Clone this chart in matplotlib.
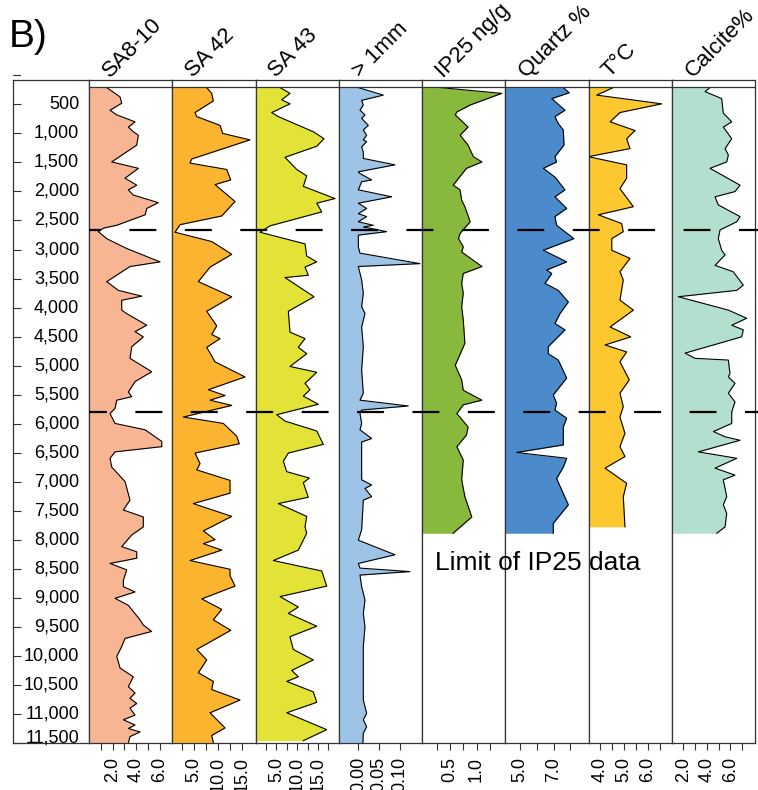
import matplotlib
matplotlib.use('Agg')
import matplotlib.pyplot as plt
import matplotlib.transforms as mtransforms
from matplotlib.lines import Line2D

plt.rcParams['font.family'] = ['Liberation Sans', 'DejaVu Sans']
plt.rcParams['lines.scale_dashes'] = False

# ---- data (age in years BP, values in panel units) ----
names = ['SA8-10', 'SA 42', 'SA 43', '> 1mm', 'IP25 ng/g', 'Quartz %', 'T°C', 'Calcite%']
colors = ['#F7B594', '#FBB430', '#E3E236', '#9DC3E6', '#88B83C', '#4B8BCB', '#FDC82F', '#B3DFCE']

age_ticks = list(range(500, 12000, 500))
age_labels = ['{:,}'.format(a) for a in age_ticks]
boundary_ages = [2660, 5800]

sa810_age = [210, 370, 480, 600, 680, 800, 890, 970, 1030, 1200, 1490, 1600, 1770, 1890, 1970, 2060,
             2190, 2290, 2400, 2580, 2630, 2690, 2810, 2980, 3210, 3290, 3550, 3700, 3800, 3870, 4040,
             4100, 4300, 4410, 4500, 4670, 4870, 5100, 5270, 5450, 5530, 5590, 5730,
             5820, 5990, 6100, 6300, 6390, 6480, 6590, 6740, 6990, 7310, 7480, 7600, 7770, 7910, 8110,
             8200, 8310, 8400, 8510, 8690, 8800, 8890, 9000, 9120, 9370, 9460, 9570, 9690, 9830, 10000,
             10200, 10350, 10520, 10630, 10720, 10810, 10890, 11010, 11090, 11180, 11240, 11300, 11380, 11490]
sa810_val = [1.5, 2.63, 2.77, 1.78, 2.35, 3.9, 3.33, 3.75, 4.18, 4.04, 1.92, 4.18, 3.05, 4.04, 3.33, 3.75,
             5.87, 4.89, 4.75, 2.35, 1.21, 0.79, 1.5, 3.19, 6.02, 3.47, 1.5, 2.48, 4.47, 2.77, 2.77,
             3.19, 4.89, 3.9, 4.6, 3.62, 3.47, 5.31, 3.9, 3.33, 3.62, 2.35, 2.2,
             1.78, 2.2, 4.75, 6.16, 6.16, 2.2, 1.78, 1.92, 3.05, 3.47, 2.91, 4.6, 4.6, 3.62, 2.77,
             4.04, 4.04, 1.78, 3.19, 2.91, 2.91, 3.9, 2.2, 3.33, 4.32, 4.6, 5.31, 3.05, 2.77, 2.35,
             2.63, 3.75, 3.33, 3.9, 3.47, 4.04, 3.47, 3.9, 2.91, 3.9, 3.33, 4.32, 3.47, 3.33]

sa42_age = [210, 310, 440, 640, 710, 860, 1000, 1110, 1440, 1510, 1620, 1800, 1880, 2170, 2420, 2570,
            2700, 2860, 2950, 3080, 3300, 3550, 3810, 4060, 4310, 4460, 4530, 4680, 4930, 5190, 5410,
            5510, 5590, 5680, 5880, 5990, 6210, 6340, 6500, 6680, 6790, 6970, 7190, 7370, 7590, 7840,
            7990, 8060, 8170, 8350, 8500, 8610, 8790, 9010, 9190, 9370, 9550, 9880, 10060, 10280,
            10430, 10570, 10750, 10970, 11230, 11360, 11480]
sa42_val = [7.71, 8.75, 9.08, 5.27, 5.63, 10.48, 11.04, 16.73, 4.58, 4.23, 11.88, 12.71, 9.44, 13.6,
            10.83, 2.15, 1.1, 8.75, 10.48, 12.92, 8.4, 5.96, 12.92, 7.71, 9.79, 8.75, 10.48, 7.71, 9.44,
            15.69, 8.04, 11.52, 8.4, 12.92, 2.83, 11.17, 13.96, 14.5, 5.27, 6.31, 5.63, 12.56, 12.56,
            4.92, 12.92, 7.0, 9.44, 7.0, 10.83, 4.23, 12.56, 12.56, 13.6, 6.67, 10.83, 9.08, 12.71,
            5.63, 7.71, 5.96, 9.08, 8.75, 14.65, 8.4, 11.52, 8.75, 9.08]

sa43_age = [210, 310, 420, 490, 640, 710, 970, 1090, 1220, 1410, 1620, 1730, 1910, 2120, 2200, 2350,
            2590, 2700, 2900, 3110, 3210, 3300, 3440, 3480, 3810, 4060, 4420, 4530, 4680, 4790, 5010,
            5110, 5300, 5410, 5520, 5660, 5840, 5950, 6120, 6350, 6500, 6640, 6820, 6930, 7010, 7260,
            7370, 7590, 7770, 7880, 8170, 8350, 8530, 8790, 8970, 9150, 9260, 9480, 9660, 9880, 10060,
            10240, 10350, 10430, 10610, 10790, 10970, 11260, 11450]
sa43_val = [5.88, 8.27, 6.28, 8.27, 3.88, 5.47, 13.86, 16.43, 14.68, 7.07, 9.88, 12.28, 11.46, 19.06,
            14.68, 15.88, 3.48, 1.08, 11.87, 12.28, 14.68, 11.87, 12.66, 7.07, 14.03, 7.87, 8.27, 11.87,
            10.26, 12.28, 8.27, 14.68, 11.87, 13.07, 11.46, 15.06, 5.08, 7.07, 14.68, 16.26, 7.87, 6.67,
            7.48, 12.9, 11.46, 12.66, 5.47, 12.28, 11.87, 12.28, 10.26, 4.27, 15.88, 17.07, 5.88, 10.26,
            7.87, 14.68, 8.27, 9.06, 13.86, 8.68, 10.26, 7.48, 13.86, 14.68, 7.48, 17.07, 11.46]

mm_age = [210, 340, 430, 510, 600, 680, 740, 800, 860, 940, 1030, 1110, 1140, 1230, 1320, 1430, 1540,
          1660, 1690, 1800, 1830, 1970, 2090, 2200, 2290, 2380, 2430, 2520, 2580, 2610, 2660, 2690,
          2750, 2950, 3060, 3240, 3290, 3520, 3750, 3980, 4100, 4330, 4670, 5070, 5470, 5590, 5690,
          5760, 5820, 5990, 6100, 6250, 6310, 6450, 6960, 7050, 7110, 7250, 7310, 7820, 8000, 8250,
          8400, 8480, 8540, 8600, 8800, 9030, 9260, 9490, 9830, 10750, 10980, 11090, 11210, 11320, 11490]
mm_val = [0.0, 0.06, 0.008, 0.012, 0.004, 0.016, 0.008, 0.016, 0.024, 0.012, 0.02, 0.012, 0.02, 0.008,
          0.012, 0.012, 0.088, 0.0, 0.004, 0.032, 0.008, 0.0, 0.08, 0.0, 0.02, 0.0, 0.02, 0.0, 0.036,
          0.012, 0.048, 0.068, 0.0, 0.0, 0.004, 0.148, 0.0, 0.008, 0.012, 0.008, 0.016, 0.008, 0.012,
          0.008, 0.012, 0.004, 0.12, 0.008, 0.004, 0.008, 0.004, 0.032, 0.008, 0.008, 0.008, 0.032,
          0.016, 0.032, 0.012, 0.008, 0.0, 0.088, 0.0, 0.004, 0.124, 0.004, 0.008, 0.016, 0.012, 0.016,
          0.012, 0.012, 0.02, 0.012, 0.02, 0.012, 0.011]

ip25_age = [210, 310, 510, 630, 680, 890, 1030, 1200, 1400, 1490, 1600, 1890, 1970, 2150, 2260, 2520,
            2720, 2810, 2950, 3040, 3290, 3410, 3580, 3750, 3980, 4210, 4610, 4990, 5240, 5420, 5590,
            5670, 5820, 6050, 6190, 6390, 6620, 6960, 7250, 7600, 7880]
ip25_val = [0.31, 1.47, 0.88, 0.63, 0.6, 0.84, 0.69, 0.84, 0.94, 1.1, 0.81, 0.56, 0.69, 0.72, 0.78,
            0.88, 0.69, 0.66, 0.75, 0.72, 1.1, 0.75, 0.72, 0.75, 0.72, 0.75, 0.78, 0.6, 0.72, 0.75, 1.1,
            0.75, 0.63, 0.84, 0.81, 0.63, 0.75, 0.72, 0.78, 0.91, 0.56]

quartz_age = [210, 300, 400, 600, 710, 830, 940, 1200, 1400, 1490, 1600, 1750, 1970, 2090, 2290, 2430,
              2580, 2810, 3010, 3210, 3350, 3410, 3580, 3700, 3900, 4100, 4270, 4380, 4670, 4790, 4900,
              5210, 5500, 5640, 5760, 5900, 6050, 6360, 6490, 6590, 6740, 6940, 7390, 7710, 7880]
quartz_val = [7.58, 7.93, 6.89, 7.68, 7.08, 7.28, 7.58, 7.62, 7.08, 7.18, 6.39, 7.08, 7.68, 7.08, 7.78,
              7.08, 7.18, 8.21, 6.39, 7.78, 6.59, 6.89, 6.49, 7.28, 7.88, 7.38, 7.08, 7.68, 6.68, 6.68,
              7.28, 7.78, 6.98, 7.18, 7.08, 7.78, 7.58, 7.58, 4.8, 7.78, 7.58, 7.18, 7.88, 6.98, 6.98]

temp_age = [210, 340, 490, 640, 800, 950, 1090, 1260, 1400, 1540, 1770, 1950, 2260, 2400, 2550, 2690,
            2810, 3010, 3150, 3380, 3520, 3870, 4040, 4330, 4500, 4640, 4760, 4930, 5240, 5470, 5700,
            5880, 6160, 6390, 6560, 6760, 7020, 7250, 7770]
temp_val = [4.55, 3.86, 6.57, 4.83, 4.42, 5.46, 5.11, 5.25, 3.51, 5.11, 5.11, 4.83, 5.39, 3.93, 4.9,
            4.97, 4.49, 4.49, 5.25, 4.83, 4.97, 4.83, 5.39, 4.42, 5.28, 4.21, 5.11, 4.83, 5.22, 4.83,
            4.97, 4.83, 5.04, 4.83, 5.04, 4.21, 5.11, 4.97, 5.04]

calcite_age = [210, 280, 400, 650, 800, 890, 1090, 1260, 1370, 1490, 1600, 1890, 2000, 2090, 2230, 2430,
               2520, 2660, 2810, 3010, 3090, 3270, 3380, 3610, 3700, 3810, 4040, 4180, 4300, 4380, 4500,
               4780, 4870, 4900, 5130, 5190, 5300, 5470, 5620, 5790, 5990, 6130, 6220, 6280, 6480, 6590,
               6760, 6880, 6960, 7250, 7390, 7540, 7770, 7880]
calcite_val = [4.27, 3.85, 5.27, 5.41, 6.13, 5.41, 6.13, 5.56, 5.84, 5.7, 4.27, 6.84, 6.41, 4.7, 4.98,
               6.84, 6.56, 5.13, 4.98, 5.27, 5.56, 4.7, 6.26, 7.12, 6.56, 1.56, 5.84, 7.41, 6.13, 7.12,
               6.98, 2.14, 2.99, 5.84, 5.98, 5.84, 6.41, 5.84, 6.41, 6.13, 6.13, 4.56, 5.56, 6.84, 3.27,
               6.56, 4.7, 6.41, 5.41, 5.7, 5.41, 5.7, 5.56, 4.85]

ages = [sa810_age, sa42_age, sa43_age, mm_age, ip25_age, quartz_age, temp_age, calcite_age]
vals = [sa810_val, sa42_val, sa43_val, mm_val, ip25_val, quartz_val, temp_val, calcite_val]

xlims = [(0, 7.05), (0.53, 17.87), (0, 19.96), (-0.047, 0.153),
         (-0.024, 1.537), (4.12, 9.08), (3.52, 6.99), (1.0, 8.12)]
xticks = [[1, 2, 3, 4, 5, 6],
          [2.5, 5, 7.5, 10, 12.5, 15],
          [2.5, 5, 7.5, 10, 12.5, 15, 17.5],
          [0, 0.05, 0.1],
          [0.25, 0.5, 0.75, 1.0, 1.25],
          [5, 6, 7, 8],
          [4, 4.5, 5, 5.5, 6, 6.5],
          [2, 3, 4, 5, 6, 7]]
xticklabels = [['', '2.0', '', '4.0', '', '6.0'],
               ['', '5.0', '', '10.0', '', '15.0'],
               ['', '5.0', '', '10.0', '', '15.0', ''],
               ['0.00', '0.05', '0.10'],
               ['', '0.5', '', '1.0', ''],
               ['5.0', '', '7.0', ''],
               ['4.0', '', '5.0', '', '6.0', ''],
               ['2.0', '', '4.0', '', '6.0', '']]

# ---- layout in pixels ----
W, H = 758, 790
fig = plt.figure(figsize=(W / 100, H / 100), dpi=100)


def box(x0, y0, x1, y1):
    return [x0 / W, 1 - y1 / H, (x1 - x0) / W, (y1 - y0) / H]


edge = '#333333'
top_px, bot_px = 80, 743
age_range = (11490, 80)

ax_left = fig.add_axes(box(13, top_px, 89, bot_px))
ax_left.set_ylim(age_range)
ax_left.set_xlim(0, 1)
ax_left.set_xticks([])
ax_left.set_yticks(age_ticks)
ax_left.set_yticklabels([])
ax_left.tick_params(axis='y', direction='in', length=6, width=0.8, color=edge)
for s in ax_left.spines.values():
    s.set_color(edge)
    s.set_linewidth(0.9)
tr = mtransforms.blended_transform_factory(ax_left.transAxes, ax_left.transData)
for a, lab in zip(age_ticks, age_labels):
    va = 'baseline' if a == age_ticks[-1] else 'center'
    ax_left.text(0.87, a, lab, ha='right', va=va, fontsize=13, transform=tr)
ax_left.plot([0, 0.09], [0, 0], color=edge, lw=0.8, transform=tr, clip_on=False)

shift = mtransforms.ScaledTranslation(3 / 100, 0, fig.dpi_scale_trans)
pw = 83.25
for i in range(8):
    x0 = 89 + i * pw
    ax = fig.add_axes(box(x0, top_px, x0 + pw, bot_px))
    ax.set_ylim(age_range)
    ax.set_xlim(xlims[i])
    ax.fill_betweenx(ages[i], xlims[i][0], vals[i], color=colors[i], lw=0)
    ax.plot(vals[i], ages[i], color='black', lw=0.8)
    ax.axhline(205, color=edge, lw=0.9)
    ax.set_yticks([])
    ax.set_xticks(xticks[i])
    ax.set_xticklabels(xticklabels[i], rotation=90, fontsize=13)
    for lab in ax.get_xticklabels():
        lab.set_transform(lab.get_transform() + shift)
    ax.tick_params(axis='x', length=5, width=0.8, pad=5, color=edge)
    for s in ax.spines.values():
        s.set_color(edge)
        s.set_linewidth(0.9)
    fig.text((x0 + 21) / W, 1 - 78 / H, names[i], rotation=45, rotation_mode='anchor',
             ha='left', va='baseline', fontsize=16)

# dashed boundary lines across the panels
trf = mtransforms.blended_transform_factory(fig.transFigure, ax_left.transData)
for a, off in zip(boundary_ages, [10.8, 6.5]):
    fig.add_artist(Line2D([89 / W, 1], [a, a], transform=trf, color='black', lw=1.6,
                          linestyle=(off, (19.4, 20.5))))

fig.text(435 / W, 1 - 570 / H, 'Limit of IP25 data', fontsize=19, va='baseline')
fig.text(9 / W, 1 - 47 / H, 'B)', fontsize=28, va='baseline')

fig.savefig('out.png', dpi=100)
